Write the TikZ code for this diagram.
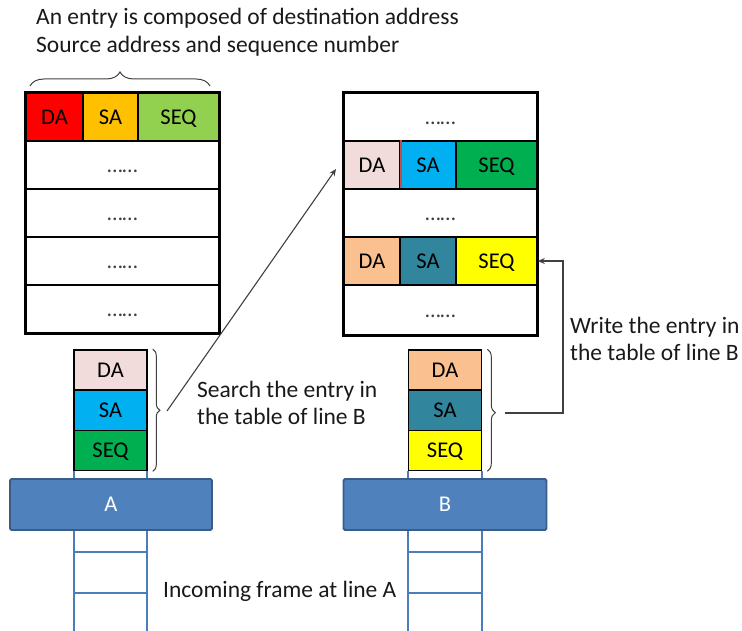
\documentclass[tikz,border=0pt]{standalone}
\usepackage{fontspec}
\setmainfont{Carlito}
\usetikzlibrary{arrows.meta,decorations.pathreplacing}

\definecolor{daRed}{HTML}{FF0000}
\definecolor{saGold}{HTML}{FFC000}
\definecolor{seqLime}{HTML}{92D050}
\definecolor{daPink}{HTML}{F2DCDB}
\definecolor{saSky}{HTML}{00B0F0}
\definecolor{seqGreen}{HTML}{00B050}
\definecolor{daPeach}{HTML}{FAC090}
\definecolor{saTeal}{HTML}{31859C}
\definecolor{seqYellow}{HTML}{FFFF00}
\definecolor{barFill}{HTML}{4F81BD}
\definecolor{barEdge}{HTML}{385D8A}
\definecolor{railBlue}{HTML}{4A7EBB}
\definecolor{divRed}{HTML}{C0504D}
\definecolor{inkGray}{HTML}{404040}

\tikzset{
  cellfont/.style={font=\fontsize{22.5}{26}\selectfont, text height=14.5pt, text depth=0pt},
  cell/.style={draw=black, line width=1.6pt, minimum height=48pt, inner sep=0pt, cellfont},
  dotrow/.style={draw=black, line width=1.6pt, minimum height=48pt, inner sep=0pt,
    fill=white, minimum width=193pt, text height=14.5pt, text depth=0pt,
    font=\fontsize{22}{26}\selectfont\color{inkGray}},
  frame/.style={draw=black, line width=3pt},
  stackcell/.style={draw=black, line width=1.6pt, minimum width=73pt, minimum height=40pt,
    inner sep=0pt, cellfont},
  linebar/.style={draw=barEdge, fill=barFill, line width=1.8pt, rounded corners=1.5pt,
    minimum height=51pt, inner sep=0pt, text=white, cellfont},
  rail/.style={draw=railBlue, line width=2.5pt},
  bracelike/.style={draw=inkGray, line width=1pt, decorate},
  link/.style={draw=inkGray, line width=1.1pt, -{Stealth[length=7pt,width=6pt]}},
  caption/.style={align=left, anchor=base west, inner sep=0pt,
    font=\fontsize{23.5}{27}\selectfont, text=black!90}
}

\begin{document}
\begin{tikzpicture}[x=1pt,y=-1pt]
\useasboundingbox (0,0) rectangle (742,631);

% heading and the brace over one entry (base anchor sits on the last line)
\node[caption, font=\fontsize{23.5}{28}\selectfont] (head) at (36,53)
  {An entry is composed of destination address\\Source address and sequence number};
\draw[bracelike, decoration={brace, amplitude=14pt, aspect=0.5}]
  (30,86) -- (210,86);

% table of line A
\node[cell, fill=daRed,   minimum width=57pt] (ta1) at (54.5,117) {DA};
\node[cell, fill=saGold,  minimum width=55pt] (ta2) at (110.5,117) {SA};
\node[cell, fill=seqLime, minimum width=81pt] (ta3) at (178.5,117) {SEQ};
\node[dotrow] (ta4) at (122.5,165) {……};
\node[dotrow] (ta5) at (122.5,213) {……};
\node[dotrow] (ta6) at (122.5,261) {……};
\node[dotrow] (ta7) at (122.5,309) {……};
\draw[frame] (ta1.north west) rectangle (ta7.south east);

% table of line B
\node[dotrow] (tb0) at (440.5,117) {……};
\node[cell, fill=daPink,   minimum width=56pt] (tb1) at (372,165) {DA};
\node[cell, fill=saSky,    minimum width=56pt] (tb2) at (428,165) {SA};
\node[cell, fill=seqGreen, minimum width=81pt] (tb3) at (496.5,165) {SEQ};
\draw[divRed, line width=1.6pt] (tb1.north east) -- (tb1.south east);
\node[dotrow] (tb4) at (440.5,213) {……};
\node[cell, fill=daPeach,   minimum width=56pt] (tb5) at (372,261) {DA};
\node[cell, fill=saTeal,    minimum width=56pt] (tb6) at (428,261) {SA};
\node[cell, fill=seqYellow, minimum width=81pt] (tb7) at (496.5,261) {SEQ};
\node[dotrow, minimum height=50pt] (tb8) at (440.5,310) {……};
\draw[frame] (tb0.north west) rectangle (tb8.south east);

% line ladders
\coordinate (lAbot) at (74,631);
\coordinate (rAbot) at (147,631);
\coordinate (lBbot) at (408,631);
\coordinate (rBbot) at (482,631);
\draw[rail] (74,471) -- (lAbot);
\draw[rail] (147,471) -- (rAbot);
\draw[rail] (74,552) -- (147,552);
\draw[rail] (74,593) -- (147,593);
\draw[rail] (408,471) -- (lBbot);
\draw[rail] (482,471) -- (rBbot);
\draw[rail] (408,552) -- (482,552);
\draw[rail] (408,593) -- (482,593);

% frame held at line A
\node[stackcell, fill=daPink]   (fa1) at (110.5,370) {DA};
\node[stackcell, fill=saSky]    (fa2) at (110.5,410.5) {SA};
\node[stackcell, fill=seqGreen] (fa3) at (110.5,450.5) {SEQ};

% frame written for line B
\node[stackcell, fill=daPeach]   (fb1) at (445,370) {DA};
\node[stackcell, fill=saTeal]    (fb2) at (445,410.5) {SA};
\node[stackcell, fill=seqYellow] (fb3) at (445,450.5) {SEQ};

% line bars
\node[linebar, minimum width=202pt] (barA) at (111,504.5) {A};
\node[linebar, minimum width=203pt] (barB) at (445,504.5) {B};

% braces beside the frames
\draw[bracelike, decoration={brace, amplitude=7pt, aspect=0.5}]
  ([xshift=5pt]fa1.north east) -- ([xshift=5pt]fa3.south east);
\coordinate (tipA) at (167,411);
\draw[bracelike, decoration={brace, amplitude=8pt, aspect=0.52}]
  ([xshift=5pt]fb1.north east) -- ([xshift=5pt]fb3.south east);
\coordinate (tipB) at (505,413);

% search and write paths
\coordinate (searchEnd) at (336,169);
\draw[link] (tipA) -- (searchEnd);
\draw[link] (tipB) -- (563,413) |- (tb7.east);

% captions
\node[caption] (search) at (197,424) {Search the entry in\\the table of line B};
\node[caption] (write) at (570,360) {Write the entry in\\the table of line B};
\node[caption] (incoming) at (163,597) {Incoming frame at line A};
\end{tikzpicture}
\end{document}
